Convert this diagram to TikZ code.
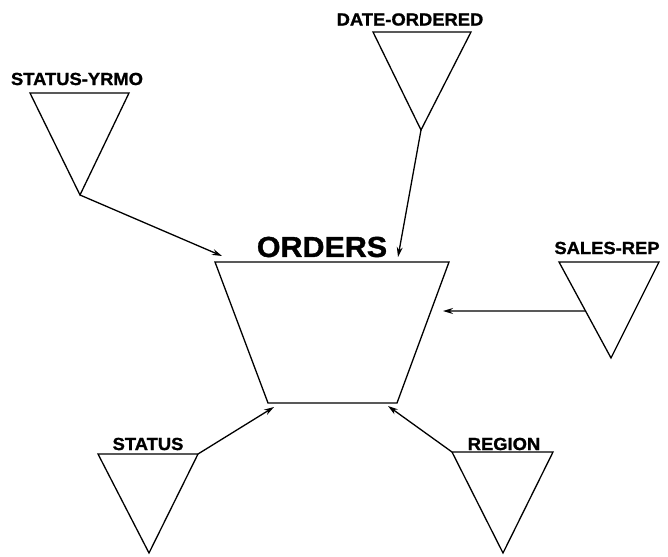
\documentclass[tikz,border=0pt]{standalone}
\usepackage{fontspec}
\setmainfont{Liberation Sans}
\newfontfamily\heavyfont[FakeBold=1.2,FakeStretch=1.05]{Liberation Sans Bold}
\usetikzlibrary{arrows.meta,calc}
\tikzset{
  shapeline/.style={line width=1.3pt, line join=miter},
  conn/.style={line width=1.3pt, -{Stealth[length=10pt,width=6pt]}},
  lbl/.style={inner sep=0pt, font=\heavyfont\fontsize{17.5}{18}\selectfont},
  biglbl/.style={inner sep=0pt, font=\heavyfont\fontsize{29}{30}\selectfont}
}
\begin{document}
\begin{tikzpicture}[x=1pt,y=-1pt]
\useasboundingbox[fill=white] (0,0) rectangle (668,556);
% STATUS-YRMO
\coordinate (sytl) at (30,93); \coordinate (sytr) at (129,93); \coordinate (syap) at (80,195);
\draw[shapeline] (sytl) -- (sytr) -- (syap) -- cycle;
\node[lbl] (sylbl) at (77,79) {STATUS-YRMO};
% DATE-ORDERED
\coordinate (dotl) at (373,32); \coordinate (dotr) at (471,32); \coordinate (doap) at (421,130);
\draw[shapeline] (dotl) -- (dotr) -- (doap) -- cycle;
\node[lbl] (dolbl) at (410,19.5) {DATE-ORDERED};
% ORDERS
\coordinate (ortl) at (215,262); \coordinate (ortr) at (449,262);
\coordinate (orbr) at (397,403); \coordinate (orbl) at (268,403);
\draw[shapeline] (ortl) -- (ortr) -- (orbr) -- (orbl) -- cycle;
\node[biglbl] (orlbl) at (322,247) {ORDERS};
\coordinate (orin1) at (222,256);
\coordinate (orin2) at (398,257);
\coordinate (orin3) at (443,311);
\coordinate (orin4) at (274,407);
\coordinate (orin5) at (388,406);
% SALES-REP
\coordinate (srtl) at (559,262); \coordinate (srtr) at (659,262); \coordinate (srap) at (611,358);
\draw[shapeline] (srtl) -- (srtr) -- (srap) -- cycle;
\node[lbl] (srlbl) at (607,248) {SALES-REP};
\coordinate (srout) at ($(srtl)!0.51!(srap)$);
% STATUS
\coordinate (sttl) at (98,454); \coordinate (sttr) at (198,454); \coordinate (stap) at (149,553);
\draw[shapeline] (sttl) -- (sttr) -- (stap) -- cycle;
\node[lbl] (stlbl) at (148,444) {STATUS};
% REGION
\coordinate (rgtl) at (452,452); \coordinate (rgtr) at (553,452); \coordinate (rgap) at (503,553);
\draw[shapeline] (rgtl) -- (rgtr) -- (rgap) -- cycle;
\node[lbl] (rglbl) at (504,444) {REGION};
% connectors
\draw[conn] (syap) -- (orin1);
\draw[conn] (doap) -- (orin2);
\draw[conn] (srout) -- (orin3);
\draw[conn] (sttr) -- (orin4);
\draw[conn] (rgtl) -- (orin5);
\end{tikzpicture}
\end{document}
